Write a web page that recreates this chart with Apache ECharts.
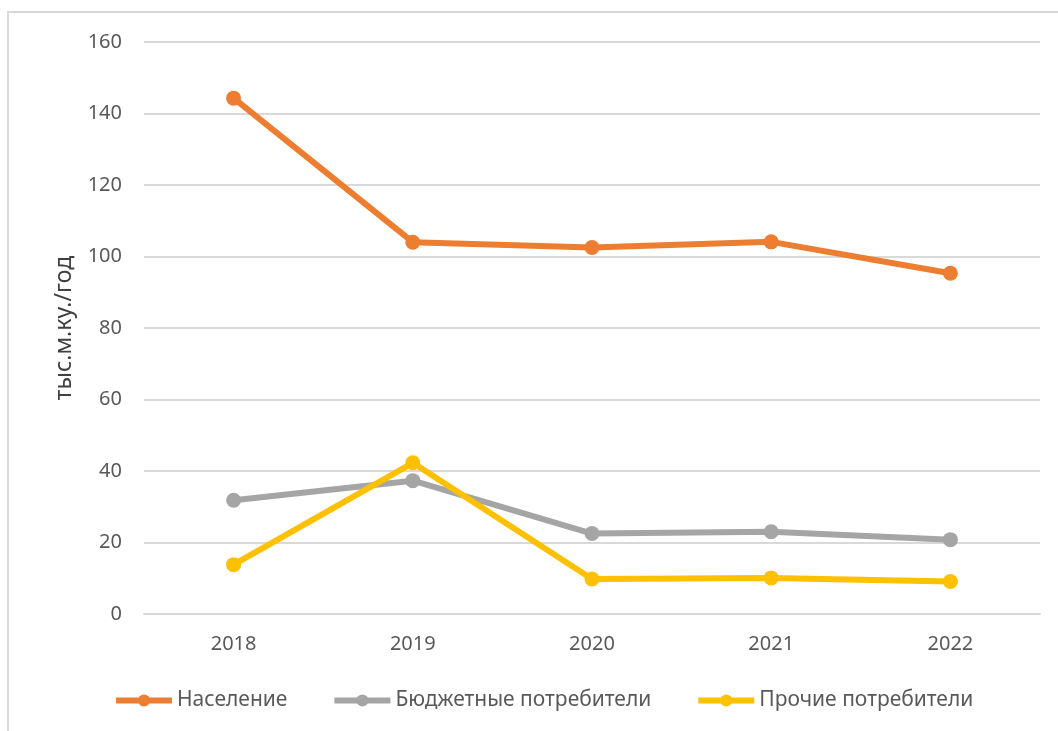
<!DOCTYPE html>
<html>
<head>
<meta charset="utf-8">
<script src="https://cdn.jsdelivr.net/npm/echarts@6/dist/echarts.min.js"></script>
<style>
  html, body { margin: 0; padding: 0; background: #ffffff; }
  #chart { width: 1058px; height: 731px; }
</style>
</head>
<body>
<div id="chart"></div>
<script>
// Годы наблюдения
const years = ['2018', '2019', '2020', '2021', '2022'];

// Потребление, тыс. м³/год
const population = [144.3, 104.0, 102.5, 104.1, 95.3];
const budgetConsumers = [31.8, 37.3, 22.5, 23.0, 20.8];
const otherConsumers = [13.8, 42.3, 9.8, 10.1, 9.1];

const seriesNames = ['Население', 'Бюджетные потребители', 'Прочие потребители'];
const seriesColors = ['#ED7D31', '#A5A5A5', '#FFC000'];

const yTicks = { min: 0, max: 160, interval: 20 };

const font = '"Noto Sans", "Open Sans", sans-serif';

function lineSeries(name, data, color) {
  return {
    name: name,
    type: 'line',
    data: data,
    symbol: 'circle',
    symbolSize: 15,
    lineStyle: { width: 6, color: color },
    itemStyle: { color: color },
    emphasis: { disabled: true },
    animation: false
  };
}

const chart = echarts.init(document.getElementById('chart'), null, { renderer: 'canvas' });

chart.setOption({
  backgroundColor: '#ffffff',
  textStyle: { fontFamily: font },
  graphic: [{
    type: 'rect',
    shape: { x: 8, y: 12, width: 1100, height: 760 },
    style: { fill: 'none', stroke: '#d9d9d9', lineWidth: 2 },
    silent: true,
    z: -1
  }],
  grid: { left: 144, right: 18, top: 42, bottom: 117 },
  legend: {
    bottom: 15,
    left: 108,
    itemWidth: 56,
    itemHeight: 15,
    itemGap: 44,
    data: seriesNames,
    lineStyle: { width: 6 },
    textStyle: { color: '#595959', fontSize: 21, fontFamily: font }
  },
  xAxis: {
    type: 'category',
    data: years,
    boundaryGap: true,
    axisLine: { show: true, lineStyle: { color: '#d9d9d9', width: 2 } },
    axisTick: { show: false },
    axisLabel: { color: '#595959', fontSize: 20, margin: 20, fontFamily: font }
  },
  yAxis: {
    type: 'value',
    min: yTicks.min,
    max: yTicks.max,
    interval: yTicks.interval,
    name: 'тыс.м.ку./год',
    nameLocation: 'middle',
    nameGap: 68,
    nameTextStyle: { color: '#404040', fontSize: 23, fontFamily: font },
    axisLine: { show: false },
    axisTick: { show: false },
    axisLabel: { color: '#595959', fontSize: 20, margin: 22, fontFamily: font },
    splitLine: { lineStyle: { color: '#d9d9d9', width: 2 } }
  },
  series: [
    lineSeries(seriesNames[0], population, seriesColors[0]),
    lineSeries(seriesNames[1], budgetConsumers, seriesColors[1]),
    lineSeries(seriesNames[2], otherConsumers, seriesColors[2])
  ]
});
</script>
</body>
</html>
